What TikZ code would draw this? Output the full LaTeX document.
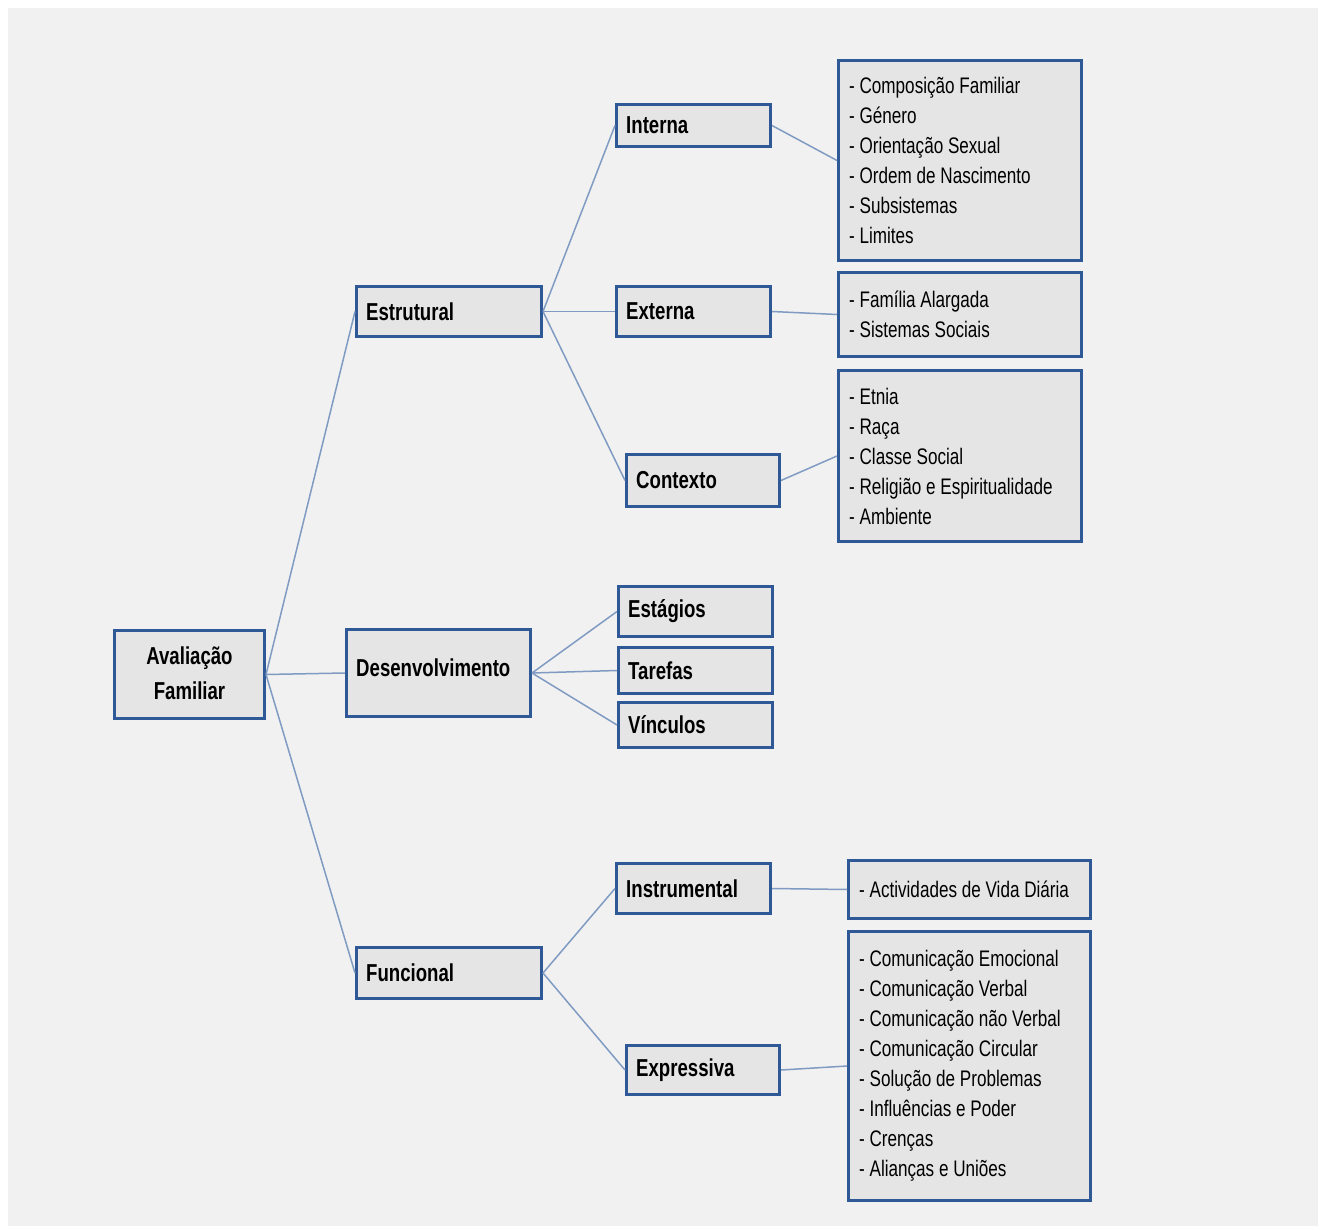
\documentclass[tikz,border=0pt]{standalone}
\usepackage{fontspec}
\setmainfont[FakeStretch=0.76]{Liberation Sans}
\usetikzlibrary{positioning}
\definecolor{boxline}{RGB}{46,88,150}
\definecolor{boxfill}{RGB}{229,229,229}
\definecolor{linkline}{RGB}{128,155,194}
\definecolor{bgpage}{RGB}{241,241,241}

\begin{document}
\begin{tikzpicture}[x=1pt,y=-1pt,
    box/.style={draw=boxline, fill=boxfill, line width=3pt, anchor=north west, inner sep=0pt},
    sz/.style 2 args={minimum width=#1, minimum height=#2},
    head/.style={inner sep=0pt, font=\fontsize{24.5}{35}\selectfont\bfseries},
    item/.style={inner sep=0pt, align=left, font=\fontsize{22.5}{30}\selectfont},
    link/.style={draw=linkline, line width=1.5pt},
    ]
\useasboundingbox (0,0) rectangle (1325,1230);
\fill[bgpage] (8,8) rectangle (1318,1226);

% level 1
\node[box, sz={150}{88}] (ava) at (113,629) {};
\node[head, align=center, yshift=1pt] at (ava.center) {Avaliação\\Familiar};

% level 2
\node[box, sz={185}{50}] (est) at (355,285) {};
\node[box, sz={184}{87}] (des) at (345,628) {};
\node[box, sz={185}{51}] (fun) at (355,946) {};
\node[head, right=11pt of est.west] {Estrutural};
\node[head, right=11pt of des.west, yshift=5pt] {Desenvolvimento};
\node[head, right=11pt of fun.west] {Funcional};

% level 3
\node[box, sz={154}{42}] (int) at (615,103) {};
\node[box, sz={154}{50}] (ext) at (615,285) {};
\node[box, sz={153}{52}] (ctx) at (625,453) {};
\node[box, sz={154}{50}] (stg) at (617,585) {};
\node[box, sz={154}{46}] (tar) at (617,646) {};
\node[box, sz={154}{45}] (vin) at (617,701) {};
\node[box, sz={154}{50}] (ins) at (615,862) {};
\node[box, sz={153}{49}] (exp) at (625,1044) {};
\foreach \n/\t in {int/Interna, ext/Externa, ctx/Contexto, stg/Estágios,
    tar/Tarefas, vin/Vínculos, ins/Instrumental, exp/Expressiva}
  \node[head, right=11pt of \n.west] {\t};

% lists
\node[box, sz={243}{200}] (intL) at (837,59) {};
\node[item, right=12pt of intL.west] {- Composição Familiar\\- Género\\- Orientação Sexual\\- Ordem de Nascimento\\- Subsistemas\\- Limites};
\node[box, sz={243}{84}] (extL) at (837,271) {};
\node[item, right=12pt of extL.west] {- Família Alargada\\- Sistemas Sociais};
\node[box, sz={243}{171}] (ctxL) at (837,369) {};
\node[item, right=12pt of ctxL.west] {- Etnia\\- Raça\\- Classe Social\\- Religião e Espiritualidade\\- Ambiente};
\node[box, sz={242}{58}] (insL) at (847,859) {};
\node[item, right=12pt of insL.west] {- Actividades de Vida Diária};
\node[box, sz={242}{269}] (expL) at (847,930) {};
\node[item, right=12pt of expL.west] {- Comunicação Emocional\\- Comunicação Verbal\\- Comunicação não Verbal\\- Comunicação Circular\\- Solução de Problemas\\- Influências e Poder\\- Crenças\\- Alianças e Uniões};

% connectors
\foreach \a/\b in {ava/est, ava/des, ava/fun, est/int, est/ext, est/ctx,
    des/stg, des/tar, des/vin, fun/ins, fun/exp,
    int/intL, ext/extL, ctx/ctxL, ins/insL, exp/expL}
  \draw[link] (\a.east) -- (\b.west);

\end{tikzpicture}
\end{document}
